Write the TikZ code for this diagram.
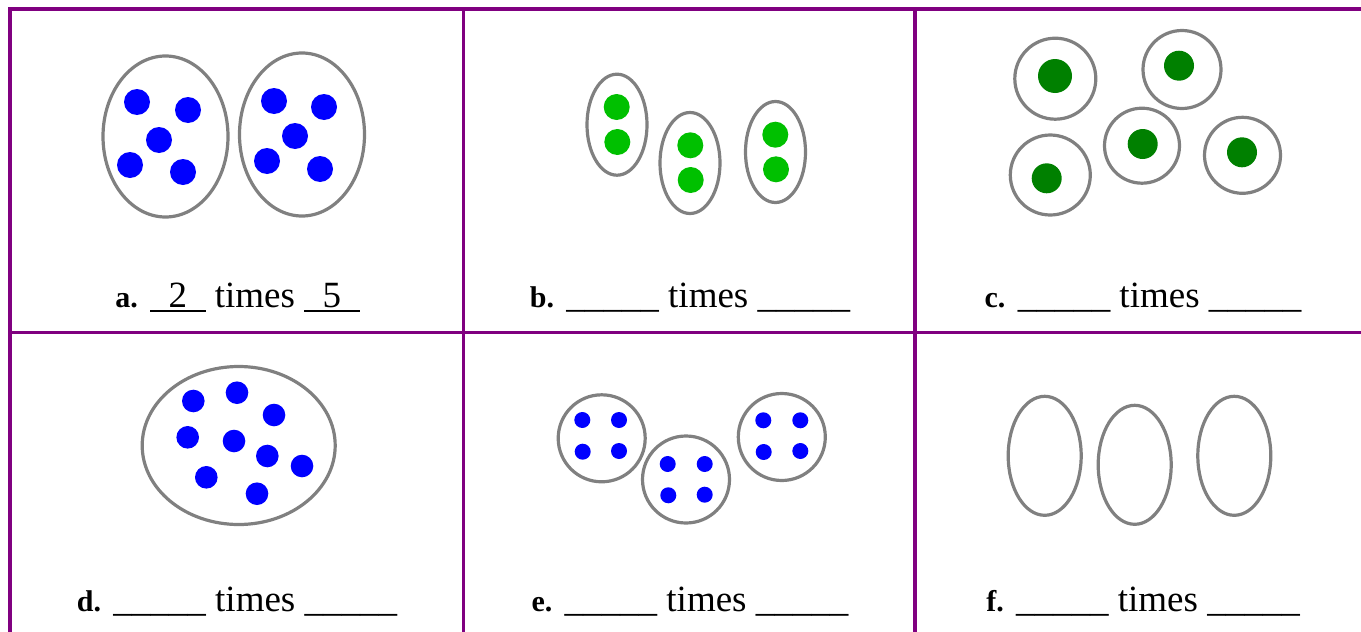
\documentclass[tikz,border=0pt]{standalone}
\usepackage{fontspec}
\setmainfont{Liberation Serif}
\definecolor{frame}{RGB}{128,0,128}
\definecolor{ring}{RGB}{128,128,128}
\definecolor{dotblue}{RGB}{0,0,255}
\definecolor{dotlime}{RGB}{0,192,0}
\definecolor{dotgreen}{RGB}{0,128,0}
\newcommand\myblank{\_\_\_\_\_}
\newcommand\mytag[1]{{\fontsize{30}{36}\selectfont\bfseries #1}}
\newcommand\myfilled[1]{\rlap{\rule[-4.8pt]{1.5em}{1.9pt}}\makebox[1.5em]{#1}}
\tikzset{
  gridline/.style={draw=frame, line width=3.3pt},
  ringline/.style={draw=ring, line width=3.2pt},
  bluedot/.style={fill=dotblue},
  limedot/.style={fill=dotlime},
  greendot/.style={fill=dotgreen},
  lbl/.style={anchor=base, inner sep=0pt, font=\fontsize{37}{44}\selectfont}
}
\begin{document}
\begin{tikzpicture}[x=1pt,y=-1pt]
\useasboundingbox (0,0) rectangle (1361,632);
% grid
\draw[gridline] (10,9) -- (1361,9);
\draw[gridline] (10,332.5) -- (1361,332.5);
\draw[gridline] (10,7.35) -- (10,632);
\draw[gridline] (463.3,7.35) -- (463.3,632);
\draw[gridline] (915,7.35) -- (915,632);

% panel a
\draw[ringline] (165.5,136.5) ellipse [x radius=62.5, y radius=80.5];
\draw[ringline] (302,134.5) ellipse [x radius=62.5, y radius=81.5];
\foreach \p in {(137,102),(188,110),(159,140),(130,165),(183,172),
                (274,101),(324,107),(295,136),(267,161),(320,169)}
  \fill[bluedot] \p circle [radius=13];
\node[lbl] (la) at (237.5,307) {\mytag{a.} \myfilled{2} times \myfilled{5}};

% panel b
\draw[ringline] (617,124.7) ellipse [x radius=30, y radius=50.5];
\draw[ringline] (690,163) ellipse [x radius=30, y radius=50.5];
\draw[ringline] (775.5,152) ellipse [x radius=30, y radius=50.5];
\foreach \p in {(616.7,107),(617.3,142),(690.3,145.3),(690.7,180),(775.3,134.7),(776,169.3)}
  \fill[limedot] \p circle [radius=13];
\node[lbl] (lb) at (690,307) {\mytag{b.} \myblank\ times \myblank};

% panel c
\draw[ringline] (1055.3,78.7) circle [radius=40.5];
\fill[greendot] (1055,76) circle [radius=17];
\draw[ringline] (1182,69.5) circle [radius=39];
\fill[greendot] (1179,65.7) circle [radius=15];
\draw[ringline] (1142,145.7) circle [radius=37.5];
\fill[greendot] (1142.7,144) circle [radius=15];
\draw[ringline] (1050.3,175) circle [radius=40];
\fill[greendot] (1046.7,178.3) circle [radius=15];
\draw[ringline] (1242.5,155.3) circle [radius=38];
\fill[greendot] (1242,152.3) circle [radius=15];
\node[lbl] (lc) at (1143,307) {\mytag{c.} \myblank\ times \myblank};

% panel d
\draw[ringline] (238.7,445.5) ellipse [x radius=96.5, y radius=79];
\foreach \p in {(193.3,401),(237,392.7),(274,415),(187.7,437.3),(234,441),
                (267.3,456),(302,466),(206.3,477.3),(257,493.7)}
  \fill[bluedot] \p circle [radius=11.3];
\node[lbl] (ld) at (237,611.5) {\mytag{d.} \myblank\ times \myblank};

% panel e
\draw[ringline] (601.7,438.3) circle [radius=43.5];
\draw[ringline] (686,479.5) circle [radius=43.5];
\draw[ringline] (781.8,437) circle [radius=43.5];
\foreach \p in {(582.3,420),(619,420),(582.7,451.7),(619,451),
                (667.7,464),(704.7,464),(668.3,495.3),(704.7,494.7),
                (763.3,420.3),(800.3,420.3),(763.7,452),(800.3,451)}
  \fill[bluedot] \p circle [radius=8];
\node[lbl] (le) at (690,611.5) {\mytag{e.} \myblank\ times \myblank};

% panel f
\draw[ringline] (1044.7,455.8) ellipse [x radius=36.5, y radius=59.5];
\draw[ringline] (1134.7,464.8) ellipse [x radius=36.5, y radius=59.5];
\draw[ringline] (1234.3,455.8) ellipse [x radius=36.5, y radius=59.5];
\node[lbl] (lf) at (1143,611.5) {\mytag{f.} \myblank\ times \myblank};
\end{tikzpicture}
\end{document}
